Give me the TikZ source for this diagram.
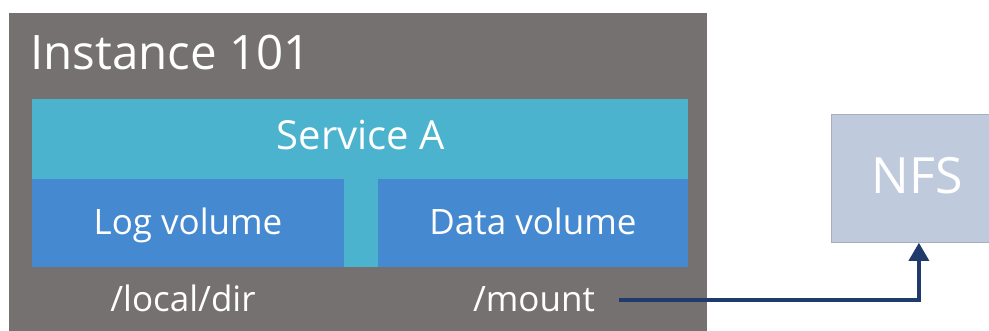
\documentclass[tikz,border=0pt]{standalone}
\usepackage{fontspec}
\setmainfont{Open Sans}
\usetikzlibrary{arrows.meta}
\definecolor{instgray}{HTML}{757170}
\definecolor{svcteal}{HTML}{4BB3CE}
\definecolor{volblue}{HTML}{4589D1}
\definecolor{nfsblue}{HTML}{BFCBDC}
\definecolor{nfsedge}{HTML}{A7AFBB}
\definecolor{linknavy}{HTML}{1F3A6B}
\tikzset{
  area/.style={inner sep=0,anchor=north west},
  lbl/.style={text=white,inner sep=0,anchor=base},
  link/.style={draw=linknavy,line width=3.2pt,-{Triangle[width=20pt,length=18pt]}}
}
\begin{document}
\begin{tikzpicture}[x=1pt,y=-1pt]
\useasboundingbox (0,0) rectangle (989,330);
% boxes
\node[area,fill=instgray,minimum width=698pt,minimum height=330pt] (inst) at (9,13) {};
\node[area,fill=svcteal,minimum width=656pt,minimum height=168pt] (svc) at (32,99) {};
\node[area,fill=volblue,minimum width=312pt,minimum height=88pt] (logvol) at (32,179) {};
\node[area,fill=volblue,minimum width=310pt,minimum height=88pt] (datavol) at (378,179) {};
\node[area,fill=nfsblue,draw=nfsedge,line width=0.8pt,minimum width=175pt,minimum height=128pt] (nfs) at (831,114) {};
% texts
\node[lbl,anchor=base west,font=\fontsize{47.5}{57}\selectfont] (insttxt) at (30,69) {Instance 101};
\node[lbl,font=\fontsize{40}{48}\selectfont] (svctxt) at (361,149) {Service A};
\node[lbl,font=\fontsize{35}{42}\selectfont] (logtxt) at (188,234) {Log volume};
\node[lbl,font=\fontsize{35}{42}\selectfont] (datatxt) at (533,234) {Data volume};
\node[lbl,font=\fontsize{35}{42}\selectfont] (localtxt) at (183,311) {/local/dir};
\node[lbl,font=\fontsize{35}{42}\selectfont] (mounttxt) at (534,311) {/mount};
\node[lbl,font=\fontsize{50}{60}\selectfont] (nfstxt) at (917,193) {NFS};
% mount to nfs
\coordinate (mnt) at (619,300);
\draw[link] (mnt) -| (nfs.south);
\end{tikzpicture}
\end{document}
